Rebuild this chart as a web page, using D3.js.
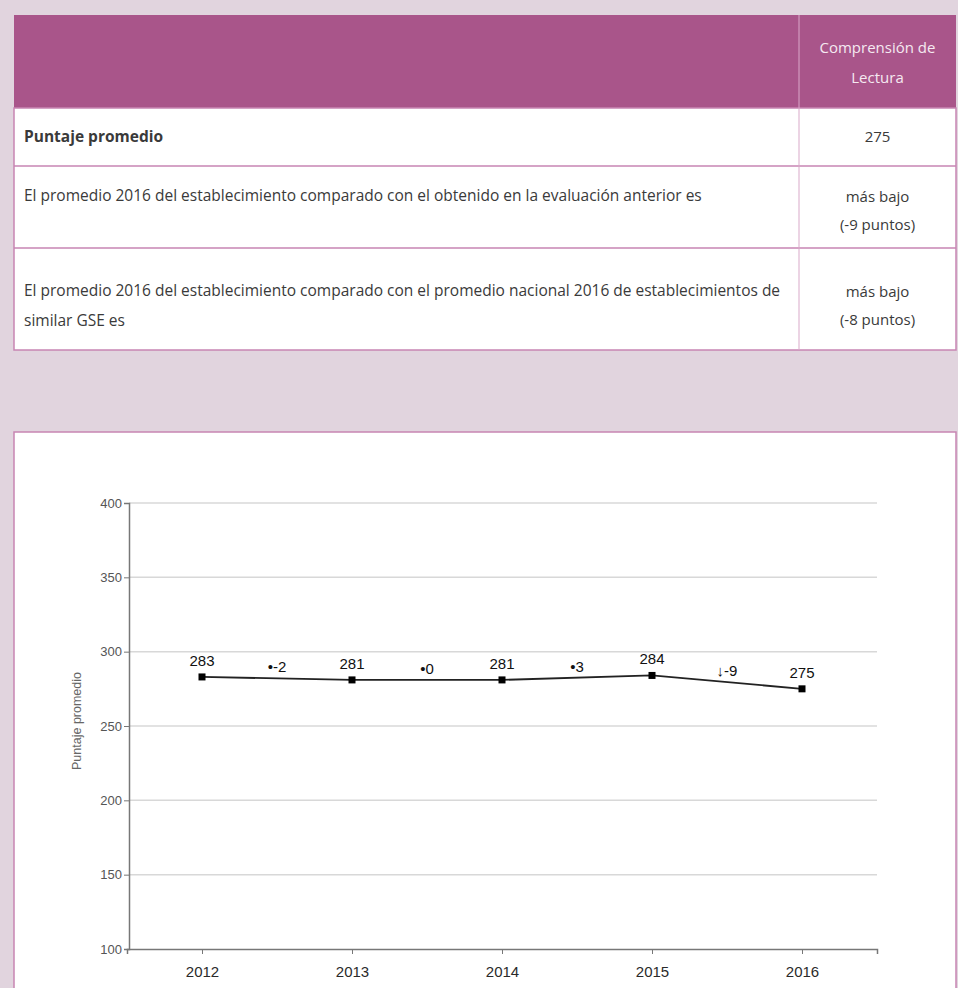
<!DOCTYPE html>
<html lang="es">
<head>
  <meta charset="UTF-8">
  <title>Comprensión de Lectura - Puntaje promedio</title>
  <script src="https://d3js.org/d3.v7.min.js"></script>
  <style>
    body { margin: 0; background: #e1d4de; }
    .tbl text { font-family: "Open Sans", sans-serif; font-size: 15.5px; fill: #3a3a3a; }
    .tbl .head { fill: #f5e9f1; font-size: 15px; }
    .tbl .cell-val { font-size: 15px; }
    .axis text { font-family: "Liberation Sans", Arial, sans-serif; }
    .label { font-family: "Liberation Sans", "DejaVu Sans", Arial, sans-serif; font-size: 15px; fill: #111; }
  </style>
</head>
<body>
<svg id="chart" width="958" height="988"></svg>

<script>
    // ——— data ———
    const years = ["2012", "2013", "2014", "2015", "2016"];
    const scores = [283, 281, 281, 284, 275];
    const changes = ["•-2", "•0", "•3", "↓-9"];
    const yTicks = [100, 150, 200, 250, 300, 350, 400];

    const headerLines = ["Comprensión de", "Lectura"];
    const rowLabels = [
      ["Puntaje promedio"],
      ["El promedio 2016 del establecimiento comparado con el obtenido en la evaluación anterior es"],
      ["El promedio 2016 del establecimiento comparado con el promedio nacional 2016 de establecimientos de", "similar GSE es"]
    ];
    const rowValues = [["275"], ["más bajo", "(-9 puntos)"], ["más bajo", "(-8 puntos)"]];

    const PURPLE = "#a9558a",
          BORDER = "#c785b3";

    const svg = d3.select("#chart");

    // ——— table ———
    const tbl = svg.append("g").attr("class", "tbl");
    const tLeft = 14, tRight = 956, tDiv = 799;
    const rowEdges = [15, 108, 166, 248, 350];

    tbl.append("rect")
      .attr("x", tLeft).attr("y", rowEdges[0])
      .attr("width", tRight - tLeft).attr("height", rowEdges[1] - rowEdges[0])
      .attr("fill", PURPLE);
    tbl.append("rect")
      .attr("x", tLeft).attr("y", rowEdges[1])
      .attr("width", tRight - tLeft).attr("height", rowEdges[4] - rowEdges[1])
      .attr("fill", "white").attr("stroke", BORDER).attr("stroke-width", 1.5);
    rowEdges.slice(2, 4).forEach(yy => {
      tbl.append("line").attr("x1", tLeft).attr("x2", tRight)
        .attr("y1", yy).attr("y2", yy)
        .attr("stroke", BORDER).attr("stroke-width", 1.5);
    });
    tbl.append("line").attr("x1", tDiv).attr("x2", tDiv)
      .attr("y1", rowEdges[0]).attr("y2", rowEdges[4])
      .attr("stroke", "#d9a9c9").attr("stroke-width", 1);

    const colMid = (tDiv + tRight) / 2;
    headerLines.forEach((t, i) => {
      tbl.append("text").attr("class", "head")
        .attr("x", colMid).attr("y", 53 + i * 30)
        .attr("text-anchor", "middle").text(t);
    });

    const rowBase = [142, 201, 296];
    rowLabels.forEach((lines, r) => {
      lines.forEach((t, i) => {
        tbl.append("text")
          .attr("x", 24).attr("y", rowBase[r] + i * 30)
          .attr("font-weight", r === 0 ? "bold" : "normal")
          .text(t);
      });
    });
    const valBase = [142, 202, 297];
    rowValues.forEach((lines, r) => {
      lines.forEach((t, i) => {
        tbl.append("text").attr("class", "cell-val")
          .attr("x", colMid).attr("y", valBase[r] + i * 28)
          .attr("text-anchor", "middle")
          .text(t);
      });
    });

    // ——— chart box ———
    svg.append("rect")
      .attr("x", tLeft).attr("y", 432)
      .attr("width", tRight - tLeft).attr("height", 600)
      .attr("fill", "white").attr("stroke", BORDER).attr("stroke-width", 1.5);

    const x = d3.scalePoint().domain(years).range([127, 877]).padding(0.5);
    const y = d3.scaleLinear().domain([100, 400]).range([949, 503]);

    // gridlines
    svg.append("g")
      .selectAll("line")
      .data(yTicks.slice(1))
      .join("line")
      .attr("x1", 129).attr("x2", 877)
      .attr("y1", d => y(d)).attr("y2", d => y(d))
      .attr("stroke", "#d8d8d8").attr("stroke-width", 1.5);

    // y axis
    const yAxis = svg.append("g")
      .attr("class", "axis")
      .attr("transform", "translate(129,0)")
      .call(d3.axisLeft(y).tickValues(yTicks).tickSize(5).tickPadding(2));
    yAxis.select(".domain").attr("stroke", "#777").attr("stroke-width", 1.5);
    yAxis.selectAll(".tick line").attr("stroke", "#777");
    yAxis.selectAll(".tick text").attr("font-size", "13px").attr("fill", "#555");

    // x axis
    const xAxis = svg.append("g")
      .attr("class", "axis")
      .attr("transform", `translate(0,${y(100)})`)
      .call(d3.axisBottom(x).tickSize(5).tickSizeOuter(5).tickPadding(12));
    xAxis.select(".domain").attr("stroke", "#777").attr("stroke-width", 1.5);
    xAxis.selectAll(".tick line").attr("stroke", "#777");
    xAxis.selectAll(".tick text").attr("font-size", "15px").attr("fill", "#2a2a2a");

    svg.append("text")
      .attr("transform", "rotate(-90)")
      .attr("x", -721).attr("y", 81)
      .attr("text-anchor", "middle")
      .attr("font-family", "Liberation Sans, Arial, sans-serif")
      .attr("font-size", "12.5px").attr("fill", "#666")
      .text("Puntaje promedio");

    // line + markers
    const line = d3.line()
      .x((d, i) => x(years[i]))
      .y(d => y(d));
    svg.append("path")
      .datum(scores)
      .attr("fill", "none")
      .attr("stroke", "#222")
      .attr("stroke-width", 1.8)
      .attr("d", line);

    svg.selectAll(".pt")
      .data(scores)
      .join("rect")
      .attr("class", "pt")
      .attr("x", (d, i) => x(years[i]) - 3.5)
      .attr("y", d => y(d) - 3.5)
      .attr("width", 7).attr("height", 7)
      .attr("fill", "#000");

    svg.selectAll(".pt-val")
      .data(scores)
      .join("text")
      .attr("class", "label pt-val")
      .attr("x", (d, i) => x(years[i]))
      .attr("y", d => y(d) - 11)
      .attr("text-anchor", "middle")
      .text(d => d);

    svg.selectAll(".chg")
      .data(changes)
      .join("text")
      .attr("class", "label chg")
      .attr("x", (d, i) => (x(years[i]) + x(years[i + 1])) / 2)
      .attr("y", (d, i) => y((scores[i] + scores[i + 1]) / 2) - 6)
      .attr("text-anchor", "middle")
      .text(d => d);
</script>
</body>
</html>
